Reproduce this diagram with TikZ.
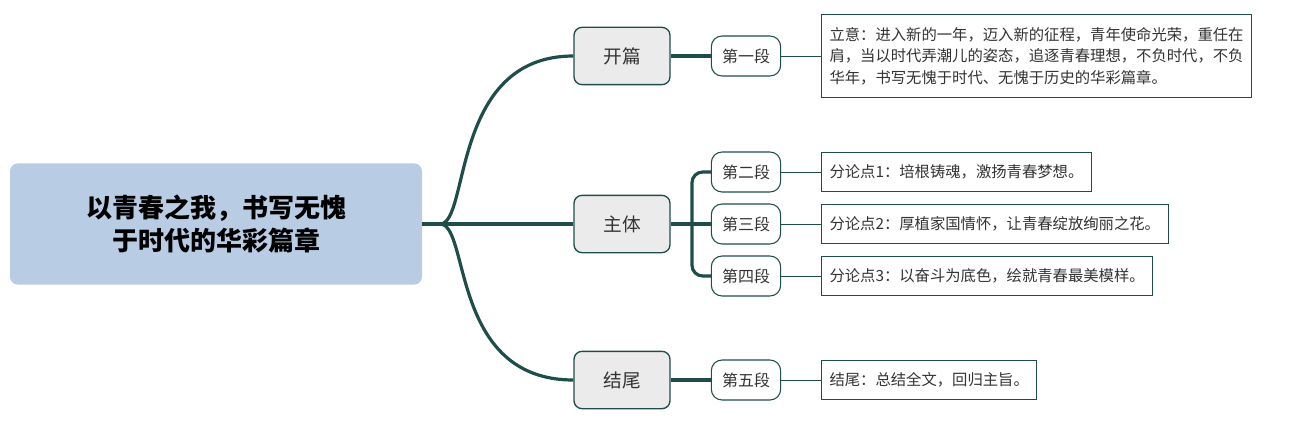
\documentclass[tikz,border=0pt]{standalone}
\usepackage{fontspec}
\setmainfont{Noto Sans CJK SC}
\definecolor{teal1}{HTML}{1F4E4A}
\definecolor{rootf}{HTML}{B8CCE4}
\definecolor{mainf}{HTML}{EBEBEB}
\begin{document}
\begin{tikzpicture}[x=0.75pt,y=-0.75pt,
 mainbox/.style={draw=teal1,line width=1pt,fill=mainf,rounded corners=6pt,minimum width=72pt,minimum height=43pt,font=\fontsize{14}{16}\selectfont,text=black!80},
 subbox/.style={draw=teal1,line width=0.8pt,fill=white,rounded corners=8pt,minimum width=52pt,minimum height=30pt,font=\fontsize{12}{14}\selectfont,text=black!80},
 leaf/.style={draw=teal1,line width=0.8pt,fill=white,anchor=west,inner sep=6pt,minimum height=29pt,font=\fontsize{11.5}{16}\selectfont,text=black!80,align=left},
 thick1/.style={teal1,line width=2.4pt},
 thin1/.style={teal1,line width=0.6pt}]
\useasboundingbox (0,0) rectangle (1301,424);
\node[fill=rootf,rounded corners=6pt,minimum width=309pt,minimum height=91pt,font=\fontsize{19.5}{25}\selectfont\bfseries,align=center] (root) at (216,224) {以青春之我，书写无愧\\于时代的华彩篇章};
\coordinate (hub) at (440,224);
\node[mainbox] (m1) at (622,56) {开篇};
\node[mainbox] (m2) at (622,224) {主体};
\node[mainbox] (m3) at (622,380) {结尾};
\node[subbox] (s1) at (746,56) {第一段};
\node[subbox] (s2) at (746,172) {第二段};
\node[subbox] (s3) at (746,224) {第三段};
\node[subbox] (s4) at (746,276) {第四段};
\node[subbox] (s5) at (746,380) {第五段};
\node[leaf,minimum height=62pt] (l1) at (821,56) {立意：进入新的一年，迈入新的征程，青年使命光荣，重任在\\肩，当以时代弄潮儿的姿态，追逐青春理想，不负时代，不负\\华年，书写无愧于时代、无愧于历史的华彩篇章。};
\node[leaf] (l2) at (821,172) {分论点1：培根铸魂，激扬青春梦想。};
\node[leaf] (l3) at (821,224) {分论点2：厚植家国情怀，让青春绽放绚丽之花。};
\node[leaf] (l4) at (821,276) {分论点3：以奋斗为底色，绘就青春最美模样。};
\node[leaf] (l5) at (821,380) {结尾：总结全文，回归主旨。};
\draw[thick1] (root.east) -- (hub);
\draw[thick1] (hub) .. controls (470,224) and (450,56) .. (m1.west);
\draw[thick1] (hub) -- (m2.west);
\draw[thick1] (hub) .. controls (470,224) and (450,380) .. (m3.west);
\draw[thick1] (m1.east) -- (s1.west);
\draw[thick1] (m3.east) -- (s5.west);
\draw[thick1] (m2.east) -- (s3.west);
\draw[thick1,rounded corners=8pt] (s2.west) -- (692,172) -- (692,276) -- (s4.west);
\foreach \a/\b in {s1/l1,s2/l2,s3/l3,s4/l4,s5/l5} \draw[thin1] (\a.east) -- (\b.west);
\end{tikzpicture}
\end{document}
